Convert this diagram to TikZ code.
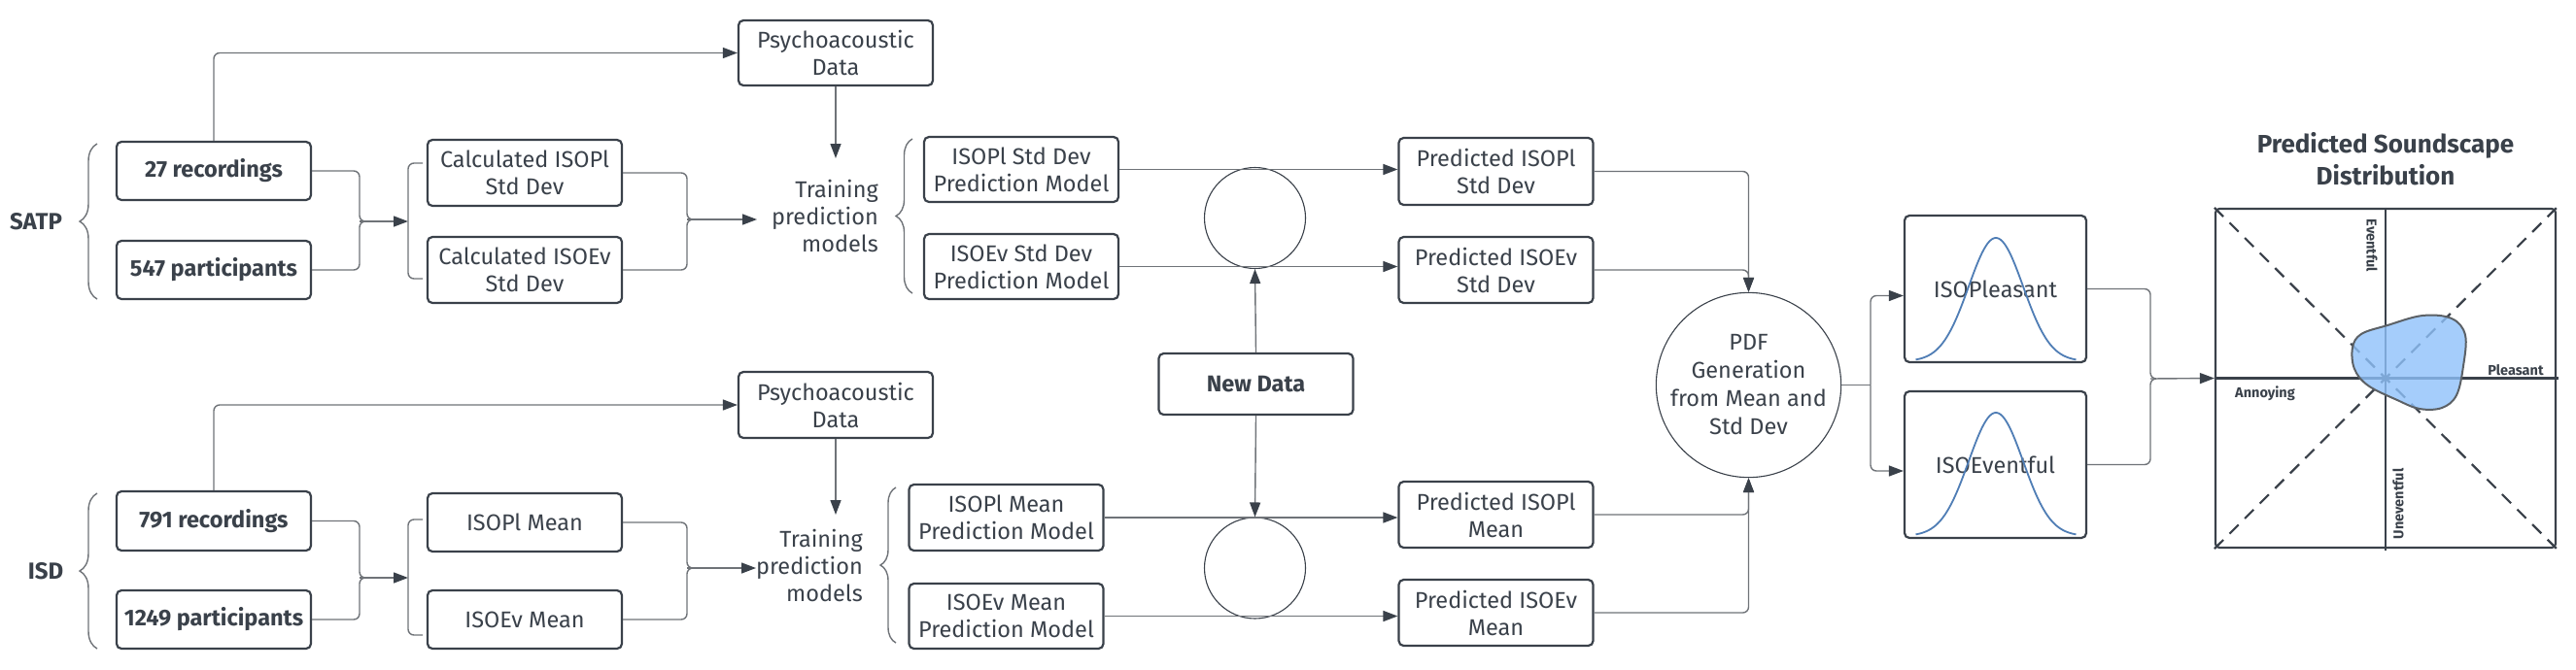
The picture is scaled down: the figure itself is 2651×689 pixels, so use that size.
\documentclass[tikz,border=0pt]{standalone}
\usepackage{fontspec}
\setmainfont{Fira Sans}
\usetikzlibrary{arrows.meta,decorations.pathreplacing,calc}
\definecolor{ink}{HTML}{3A414A}
\definecolor{wire}{HTML}{6F7378}
\definecolor{gblue}{HTML}{4F7DB5}
\definecolor{blobfill}{HTML}{8EC1FA}
\definecolor{blobedge}{HTML}{5C6166}
\begin{document}
\begin{tikzpicture}[x=1pt,y=-1pt,
  box/.style={draw=ink, line width=2.2pt, rounded corners=5pt, minimum width=200pt, align=center, text=ink, font=\fontsize{23.5}{28}\selectfont, inner sep=0pt, fill=white},
  bbox/.style={box, font=\fontsize{23.5}{28}\selectfont\bfseries},
  conn/.style={draw=wire, line width=1.4pt, rounded corners=6pt},
  arr/.style={conn, -{Triangle[length=15pt,width=11pt,color=ink]}},
  brc/.style={draw=wire, line width=1.4pt, decorate},
  ring/.style={circle, draw=ink, line width=1.1pt, inner sep=0pt, align=center, text=ink, font=\fontsize{23.5}{29}\selectfont},
  grp/.style={text=ink, font=\fontsize{24}{28}\selectfont\bfseries},
  trn/.style={text=ink, align=right, inner sep=0pt, font=\fontsize{23.5}{28}\selectfont},
  axlbl/.style={text=ink, inner sep=0pt, font=\fontsize{14.5}{17}\selectfont\bfseries},
  gauss/.style={draw=gblue, line width=1.8pt}
]
\useasboundingbox (0,0) rectangle (2651,689);

% group labels
\node[grp] (satp) at (37,228) {SATP};
\node[grp] (isd) at (47,588) {ISD};
\draw[brc, decoration={brace, amplitude=18pt}] (100,308) -- (100,148);
\draw[brc, decoration={brace, amplitude=18pt}] (100,668) -- (100,508);

% inputs
\node[bbox, minimum height=60pt] (r27) at (220,176) {27 recordings};
\node[bbox, minimum height=60pt] (p547) at (220,278) {547 participants};
\node[bbox, minimum height=61pt] (r791) at (220,536.5) {791 recordings};
\node[bbox, minimum height=60pt] (p1249) at (220,638) {1249 participants};

% calculated
\node[box, minimum height=68pt] (cpl) at (540,178) {Calculated ISOPl\\Std Dev};
\node[box, minimum height=68pt] (cev) at (540,278) {Calculated ISOEv\\Std Dev};
\node[box, minimum height=60pt] (mpl) at (540,538) {ISOPl Mean};
\node[box, minimum height=60pt] (mev) at (540,638) {ISOEv Mean};

% psychoacoustic
\node[box, minimum height=67pt] (psy1) at (860,54.5) {Psychoacoustic\\Data};
\node[box, minimum height=68pt] (psy2) at (860,417) {Psychoacoustic\\Data};

% training text
\node[trn, anchor=east] (tr1) at (904,222) {Training\\prediction\\models};
\node[trn, anchor=east] (tr2) at (888,582) {Training\\prediction\\models};

% models
\node[box, minimum height=67pt] (sdpl) at (1051,174.5) {ISOPl Std Dev\\Prediction Model};
\node[box, minimum height=67pt] (sdev) at (1051,274.5) {ISOEv Std Dev\\Prediction Model};
\node[box, minimum height=68pt] (mnpl) at (1035.5,533) {ISOPl Mean\\Prediction Model};
\node[box, minimum height=67pt] (mnev) at (1035.5,634.5) {ISOEv Mean\\Prediction Model};
\draw[brc, decoration={brace, amplitude=17pt}] (939,302) -- (939,143);
\draw[brc, decoration={brace, amplitude=16pt}] (922,662) -- (922,502);

% circles and new data
\node[ring, minimum size=104pt] (c1) at (1291.5,224.5) {};
\node[ring, minimum size=104pt] (c2) at (1291.5,585) {};
\node[bbox, minimum height=63pt] (nd) at (1292.5,395.5) {New Data};

% predicted
\node[box, minimum height=69pt] (ppl) at (1539.5,176.5) {Predicted ISOPl\\Std Dev};
\node[box, minimum height=68pt] (pev) at (1539.5,278) {Predicted ISOEv\\Std Dev};
\node[box, minimum height=68pt] (pmpl) at (1539.5,530) {Predicted ISOPl\\Mean};
\node[box, minimum height=68pt] (pmev) at (1539.5,631) {Predicted ISOEv\\Mean};

% PDF
\node[ring, minimum size=178pt] (pdf) at (1799.5,396.5) {PDF\\Generation\\from Mean and\\Std Dev};

% gaussian boxes
\node[box, minimum width=187pt, minimum height=151pt] (gpl) at (2053.5,297.5) {ISOPleasant};
\node[box, minimum width=187pt, minimum height=151pt] (gev) at (2053.5,478.5) {ISOEventful};
\draw[gauss] plot[domain=-82.5:82.5, samples=90, smooth] ({\x+2054},{372-127*exp(-((\x)*(\x))/1568)});
\draw[gauss] plot[domain=-82.5:82.5, samples=90, smooth] ({\x+2054},{552-127*exp(-((\x)*(\x))/1568)});

% chart
\node[text=ink, align=center, font=\fontsize{26}{33}\selectfont\bfseries] (ttl) at (2455,163.5) {Predicted Soundscape\\Distribution};
\node[draw=ink, line width=2.2pt, rounded corners=4pt, minimum width=350pt, minimum height=349pt, inner sep=0pt] (chart) at (2455,389.5) {};
\draw[draw=ink, line width=2.2pt, dash pattern=on 13pt off 9pt] (chart.north west) -- (chart.south east);
\draw[draw=ink, line width=2.2pt, dash pattern=on 13pt off 9pt] (chart.south west) -- (chart.north east);
\draw[draw=ink, line width=2.2pt] (chart.north) -- ([yshift=-2pt]chart.south);
\draw[draw=ink, line width=2.2pt] (chart.west) -- ([xshift=2pt]chart.east);
\filldraw[fill=blobfill, fill opacity=0.8, draw=blobedge, line width=2pt]
  plot[smooth cycle, tension=0.6] coordinates {(2421,358) (2430,344) (2457,335) (2493,325) (2523,328) (2537,345) (2535,377) (2528,407) (2513,420) (2490,421) (2467,412) (2437,397) (2423,380)};
\node[axlbl, rotate=-90] (lev) at (2441,253) {Eventful};
\node[axlbl, rotate=90] (lun) at (2468,519) {Uneventful};
\node[axlbl] (lpl) at (2589,381) {Pleasant};
\node[axlbl] (lan) at (2331,405) {Annoying};

% coordinates for junctions
\coordinate (j1) at (370,228);
\coordinate (j2) at (370,595);
\coordinate (b1) at (420,228);
\coordinate (b2) at (420,595);
\coordinate (j3) at (707,226);
\coordinate (j4) at (707,585);
\coordinate (t1) at (779,226);
\coordinate (t2) at (778,585);
\coordinate (s1) at (860,163);
\coordinate (s2) at (860,530);
\coordinate (j5) at (1925,396.5);
\coordinate (j6) at (2213,390);

% connectors: SATP
\draw[arr] (r27.north) |- (psy1.west);
\draw[conn] (r27.east) -| (j1) -- ++(7,0);
\draw[conn] (p547.east) -| (j1) -- ++(7,0);
\draw[arr] (j1) -- (b1);
\draw[conn] (435,168) -- (420,168) -- (420,287) -- (435,287);
\draw[conn] (cpl.east) -| (j3) -- ++(5,0);
\draw[conn] (cev.east) -| (j3) -- ++(5,0);
\draw[arr] (j3) -- (t1);
\draw[arr] (psy1.south) -- (s1);

% connectors: ISD
\draw[arr] (r791.north) |- (psy2.west);
\draw[conn] (r791.east) -| (j2) -- ++(7,0);
\draw[conn] (p1249.east) -| (j2) -- ++(7,0);
\draw[arr] (j2) -- (b2);
\draw[conn] (435,535) -- (420,535) -- (420,654) -- (435,654);
\draw[conn] (mpl.east) -| (j4) -- ++(5,0);
\draw[conn] (mev.east) -| (j4) -- ++(5,0);
\draw[arr] (j4) -- (t2);
\draw[arr] (psy2.south) -- (s2);

% models to predicted
\draw[arr] (sdpl.east) -- (sdpl.east -| ppl.west);
\draw[arr] (sdev.east) -- (sdev.east -| pev.west);
\draw[arr] (mnpl.east) -- (mnpl.east -| pmpl.west);
\draw[arr] (mnev.east) -- (mnev.east -| pmev.west);
\draw[arr] (nd.north) -- (c1.south);
\draw[arr] (nd.south) -- (c2.north);

% predicted to pdf
\draw[arr] (ppl.east) -| (pdf.north);
\draw[arr] (pev.east) -| (pdf.north);
\draw[arr] (pmpl.east) -| (pdf.south);
\draw[arr] (pmev.east) -| (pdf.south);

% pdf to gaussians
\draw[conn] (pdf.east) -- (j5);
\draw[arr] (j5) |- ([yshift=-7pt]gpl.west);
\draw[arr] (j5) |- ([yshift=-6.5pt]gev.west);

% gaussians to chart
\draw[conn] (gpl.east) -| (j6) -- ++(6,0);
\draw[conn] (gev.east) -| (j6) -- ++(6,0);
\draw[arr] (j6) -- (chart.west);
\end{tikzpicture}
\end{document}
